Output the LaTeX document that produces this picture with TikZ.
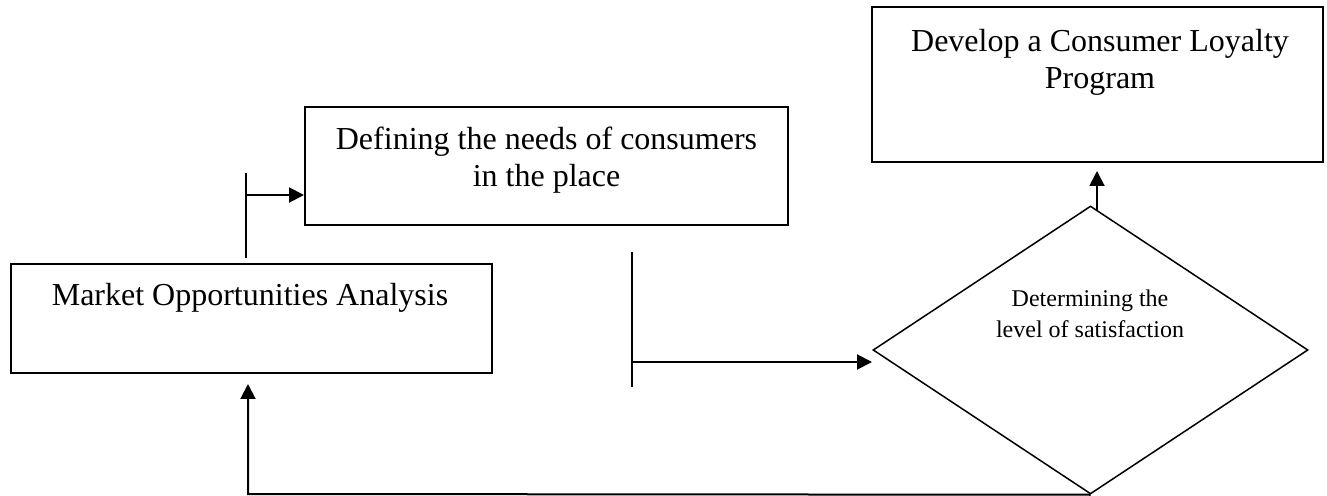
\documentclass[tikz,border=0pt]{standalone}
\usepackage{fontspec}
\setmainfont{Liberation Serif}
\usetikzlibrary{shapes.geometric,arrows.meta}
\begin{document}
\begin{tikzpicture}[x=0.5pt,y=-0.5pt,
  box/.style={draw, rectangle, line width=1pt, inner sep=0pt},
  decision/.style={draw, diamond, line width=0.75pt, inner sep=0pt},
  bigtext/.style={font=\fontsize{16}{18.5}\selectfont, inner sep=0pt, anchor=base},
  smalltext/.style={font=\fontsize{12}{15}\selectfont, inner sep=0pt, anchor=base},
  link/.style={line width=1pt},
  arr/.style={link, -{Triangle[length=7.5pt,width=7.5pt]}},
  bar/.style={line width=0.8pt}]
\useasboundingbox (0,0) rectangle (1327,496);

% process boxes
\node[box, minimum width=225.5pt, minimum height=77.5pt] (loyal) at (1097.5,84.5) {};
\node[bigtext] (loyal1) at (1100,52) {Develop a Consumer Loyalty};
\node[bigtext] (loyal2) at (1100,89) {Program};

\node[box, minimum width=241.5pt, minimum height=59pt] (needs) at (546.5,166) {};
\node[bigtext] (needs1) at (546.5,150) {Defining the needs of consumers};
\node[bigtext] (needs2) at (546.5,187) {in the place};

\node[box, minimum width=240.5pt, minimum height=54.5pt] (market) at (251.5,318.5) {};
\node[bigtext] (market1) at (250,306) {Market Opportunities Analysis};

% decision
\node[decision, minimum width=217.5pt, minimum height=144pt] (sat) at (1090.5,350) {};
\node[smalltext] (sat1) at (1090,307) {Determining the};
\node[smalltext] (sat2) at (1090,338) {level of satisfaction};

% market analysis -> needs
\coordinate (barA1) at (246,173);
\coordinate (barA2) at (246,258);
\coordinate (forkA) at (246,195);
\draw[bar] (barA1) -- (barA2);
\draw[arr] (forkA) -- (forkA -| needs.west);

% needs -> satisfaction
\coordinate (barB1) at (632,252);
\coordinate (barB2) at (632,387);
\coordinate (forkB) at (632,362);
\coordinate (inB) at (872,362);
\draw[bar] (barB1) -- (barB2);
\draw[arr] (forkB) -- (inB);

% satisfaction -> loyalty program
\coordinate (outT) at (1097,211);
\draw[arr, shorten >=4pt] (outT) -- (outT |- loyal.south);

% satisfaction -> back to market analysis
\coordinate (backC) at (248,494);
\draw[arr, shorten >=5pt] (sat.south) -- (backC) -- (backC |- market.south);
\end{tikzpicture}
\end{document}
